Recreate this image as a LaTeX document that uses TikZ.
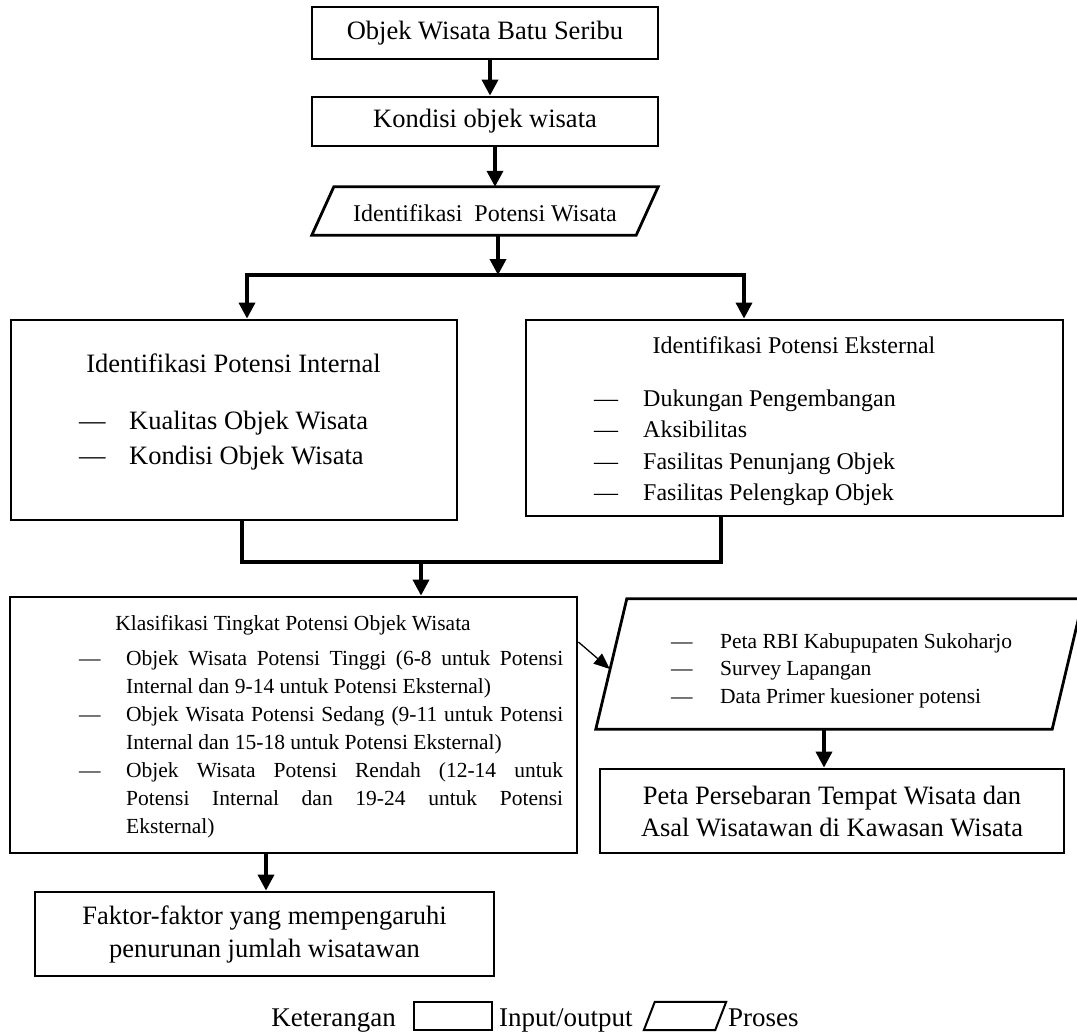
\documentclass[tikz,border=0pt]{standalone}
\usepackage{fontspec}
\setmainfont{Liberation Serif}
\usetikzlibrary{arrows.meta}
\newcommand{\fA}{\fontsize{26.5}{32}\selectfont}
\newcommand{\fAb}{\fontsize{26.5}{33}\selectfont}
\newcommand{\fB}{\fontsize{24}{29}\selectfont}
\newcommand{\fC}{\fontsize{21.5}{28}\selectfont}
\newcommand{\fL}{\fontsize{27}{32}\selectfont}
\begin{document}
\begin{tikzpicture}[x=1pt,y=-1pt,
  box/.style={draw, line width=2.8pt, inner sep=0pt},
  frame/.style={inner sep=0pt},
  edge/.style={line width=2.8pt, line join=miter},
  conn/.style={line width=3.6pt},
  arr/.style={line width=3.6pt, -{Triangle[length=16pt,width=16pt]}},
  thinarr/.style={line width=1.3pt, -{Triangle[length=16pt,width=13pt]}},
  lnA/.style={inner sep=0pt, font=\fA, text height=18pt, text depth=0pt},
  lnB/.style={inner sep=0pt, font=\fB, text height=16.5pt, text depth=0pt},
  lnC/.style={inner sep=0pt, font=\fC, text height=15pt, text depth=0pt},
  lnL/.style={inner sep=0pt, font=\fL, text height=18.5pt, text depth=0pt},
  klin/.style={inner sep=0pt, font=\fC, anchor=base west},
]
\useasboundingbox (0,0) rectangle (1077,1036);

% top chain
\node[box, minimum width=346pt, minimum height=52pt, font=\fA] (b1) at (485,33) {Objek Wisata Batu Seribu};
\node[box, minimum width=346pt, minimum height=49pt, font=\fA] (b2) at (485,121.5) {Kondisi objek wisata};
\node[frame, minimum width=346pt, minimum height=48pt] (p1) at (485,211) {};
\draw[edge] (p1.south west) -- ([xshift=22pt]p1.north west) -- (p1.north east) -- ([xshift=-22pt]p1.south east) -- cycle;
\node[lnB] (p1t) at (485,213) {Identifikasi\ \ Potensi Wisata};

\draw[arr] ([xshift=5pt]b1.south) -- ([xshift=5pt]b2.north);
\draw[arr] ([xshift=10pt]b2.south) -- ([xshift=10pt]b2.south |- p1.north);

% split
\coordinate (sp) at (498,275);
\coordinate (spL) at (247,275);
\coordinate (spR) at (744,275);
\draw[arr] (p1.south -| sp) -- (sp);
\draw[conn] ([xshift=-1.8pt]spL) -- ([xshift=1.8pt]spR);

% internal
\node[box, minimum width=446pt, minimum height=200pt] (int) at (234,420) {};
\node[lnA] (intT) at (233.5,363) {Identifikasi Potensi Internal};
\node[lnA, anchor=west] (int1) at (79,420) {\makebox[50pt][l]{\textemdash}Kualitas Objek Wisata};
\node[lnA, anchor=west] (int2) at (79,455) {\makebox[50pt][l]{\textemdash}Kondisi Objek Wisata};

% eksternal
\node[box, minimum width=537pt, minimum height=196pt] (eks) at (794.5,418) {};
\node[lnB] (eksT) at (794,345) {Identifikasi Potensi Eksternal};
\node[lnB, anchor=west] (eks1) at (594,398) {\makebox[49pt][l]{\textemdash}Dukungan Pengembangan};
\node[lnB, anchor=west] (eks2) at (594,429.5) {\makebox[49pt][l]{\textemdash}Aksibilitas};
\node[lnB, anchor=west] (eks3) at (594,461) {\makebox[49pt][l]{\textemdash}Fasilitas Penunjang Objek};
\node[lnB, anchor=west] (eks4) at (594,492) {\makebox[49pt][l]{\textemdash}Fasilitas Pelengkap Objek};

\draw[arr] (spL) -- (spL |- int.north);
\draw[arr] (spR) -- (spR |- eks.north);

% merge
\coordinate (mL) at (242,562);
\coordinate (mR) at (721,562);
\coordinate (mC) at (421,562);
\draw[conn, line join=miter] (mL |- int.south) -- (mL) -- (mR) -- (mR |- eks.south);

% klasifikasi
\node[box, minimum width=567pt, minimum height=256pt] (kl) at (293.5,725) {};
\node[lnC] (klT) at (293,623) {Klasifikasi Tingkat Potensi Objek Wisata};
\node[klin] (kd1) at (79,665) {\textemdash};
\node[klin] (kd2) at (79,721) {\textemdash};
\node[klin] (kd3) at (79,777) {\textemdash};
\node[klin] (k1) at (126,665) {\makebox[437pt][s]{Objek Wisata Potensi Tinggi (6-8 untuk Potensi}};
\node[klin] (k2) at (126,693) {Internal dan 9-14 untuk Potensi Eksternal)};
\node[klin] (k3) at (126,721) {\makebox[437pt][s]{Objek Wisata Potensi Sedang (9-11 untuk Potensi}};
\node[klin] (k4) at (126,749) {Internal dan 15-18 untuk Potensi Eksternal)};
\node[klin] (k5) at (126,777) {\makebox[437pt][s]{Objek Wisata Potensi Rendah (12-14 untuk}};
\node[klin] (k6) at (126,805) {\makebox[437pt][s]{Potensi Internal dan 19-24 untuk Potensi}};
\node[klin] (k7) at (126,833) {Eksternal)};

\draw[arr] (mC) -- (mC |- kl.north);

% data input parallelogram
\node[frame, minimum width=487pt, minimum height=130pt] (p2) at (839.5,664) {};
\draw[edge] (p2.south west) -- ([xshift=31pt]p2.north west) -- (p2.north east) -- ([xshift=-31pt]p2.south east) -- cycle;
\node[lnC, anchor=west] (pd1) at (671,641) {\makebox[49pt][l]{\textemdash}Peta RBI Kabupupaten Sukoharjo};
\node[lnC, anchor=west] (pd2) at (671,668) {\makebox[49pt][l]{\textemdash}Survey Lapangan};
\node[lnC, anchor=west] (pd3) at (671,696) {\makebox[49pt][l]{\textemdash}Data Primer kuesioner potensi};

\draw[thinarr] ([yshift=83pt]kl.east) -- ([xshift=14pt,yshift=-5pt]p2.west);

% peta persebaran
\node[box, minimum width=464pt, minimum height=84pt, font=\fA, align=center] (peta) at (832,811) {Peta Persebaran Tempat Wisata dan\\Asal Wisatawan di Kawasan Wisata};
\coordinate (pa) at (824,700);
\draw[arr] (pa |- p2.south) -- (pa |- peta.north);

% faktor
\node[box, minimum width=459pt, minimum height=84pt, font=\fAb, align=center] (fak) at (264.5,934) {Faktor-faktor yang mempengaruhi\\penurunan jumlah wisatawan};
\coordinate (fa) at (266,870);
\draw[arr] (fa |- kl.south) -- (fa |- fak.north);

% legend
\node[lnL, anchor=east] (lk) at (396,1017) {Keterangan};
\node[draw, line width=2pt, inner sep=0pt, minimum width=78pt, minimum height=28pt] (lr) at (453,1016) {};
\node[lnL, anchor=west] (lio) at (499,1017) {Input/output};
\node[frame, minimum width=82pt, minimum height=28pt] (lp) at (685,1016) {};
\draw[line width=2pt] (lp.south west) -- ([xshift=11pt]lp.north west) -- (lp.north east) -- ([xshift=-11pt]lp.south east) -- cycle;
\node[lnL, anchor=west] (lpr) at (728,1017) {Proses};
\end{tikzpicture}
\end{document}
